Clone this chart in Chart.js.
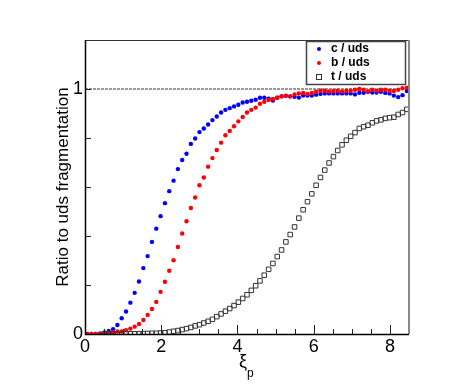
<!DOCTYPE html>
<html>
<head>
<meta charset="utf-8">
<script src="https://cdn.jsdelivr.net/npm/chart.js@4.4.1/dist/chart.umd.min.js"></script>
<style>
  html, body { margin: 0; padding: 0; background: #fff; }
  #wrap { width: 458px; height: 392px; }
</style>
</head>
<body>
<div id="wrap"><canvas id="myChart" width="458" height="392"></canvas></div>
<script>
// bin centres in xi_p (75 bins from 0 to 8.5)
var xi = [0.057, 0.170, 0.283, 0.397, 0.510, 0.623, 0.737, 0.850, 0.963, 1.077,
  1.190, 1.303, 1.417, 1.530, 1.643, 1.757, 1.870, 1.983, 2.097, 2.210,
  2.323, 2.437, 2.550, 2.663, 2.777, 2.890, 3.003, 3.117, 3.230, 3.343,
  3.457, 3.570, 3.683, 3.797, 3.910, 4.023, 4.137, 4.250, 4.363, 4.477,
  4.590, 4.703, 4.817, 4.930, 5.043, 5.157, 5.270, 5.383, 5.497, 5.610,
  5.723, 5.837, 5.950, 6.063, 6.177, 6.290, 6.403, 6.517, 6.630, 6.743,
  6.857, 6.970, 7.083, 7.197, 7.310, 7.423, 7.537, 7.650, 7.763, 7.877,
  7.990, 8.103, 8.217, 8.330, 8.443];

var cRatio = [0, 0, 0, 0.002, 0.006, 0.012, 0.02, 0.037, 0.064, 0.092,
  0.128, 0.168, 0.214, 0.269, 0.318, 0.376, 0.43, 0.481, 0.534, 0.583,
  0.626, 0.673, 0.71, 0.736, 0.776, 0.798, 0.824, 0.839, 0.855, 0.873,
  0.888, 0.904, 0.915, 0.922, 0.929, 0.936, 0.945, 0.948, 0.952, 0.956,
  0.964, 0.964, 0.96, 0.953, 0.964, 0.97, 0.972, 0.97, 0.968, 0.965,
  0.973, 0.973, 0.973, 0.977, 0.98, 0.982, 0.982, 0.982, 0.982, 0.982,
  0.982, 0.982, 0.978, 0.985, 0.985, 0.989, 0.986, 0.986, 0.989, 0.984,
  0.982, 0.973, 0.967, 0.975, 0.992];

var bRatio = [0, 0, 0, 0, 0.003, 0.005, 0.007, 0.01, 0.01, 0.016,
  0.022, 0.03, 0.041, 0.057, 0.078, 0.102, 0.131, 0.172, 0.213, 0.258,
  0.301, 0.355, 0.41, 0.46, 0.514, 0.557, 0.607, 0.639, 0.683, 0.718,
  0.751, 0.781, 0.811, 0.829, 0.848, 0.868, 0.886, 0.904, 0.915, 0.924,
  0.94, 0.948, 0.955, 0.959, 0.964, 0.97, 0.973, 0.97, 0.978, 0.982,
  0.984, 0.98, 0.984, 0.989, 0.993, 0.993, 0.99, 0.992, 0.993, 0.99,
  0.993, 0.993, 0.997, 1.0, 0.997, 0.99, 0.997, 0.993, 0.997, 0.997,
  0.993, 0.992, 0.997, 1.003, 1.005];

var tRatio = [null, null, null, null, 0, 0, 0, 0, 0, 0,
  0.001, 0.001, 0.001, 0.002, 0.002, 0.003, 0.003, 0.004, 0.005, 0.008,
  0.011, 0.014, 0.018, 0.022, 0.027, 0.033, 0.038, 0.045, 0.052, 0.06,
  0.071, 0.082, 0.093, 0.104, 0.116, 0.13, 0.145, 0.16, 0.178, 0.197,
  0.217, 0.24, 0.264, 0.288, 0.316, 0.343, 0.376, 0.406, 0.437, 0.473,
  0.507, 0.54, 0.572, 0.607, 0.639, 0.669, 0.698, 0.724, 0.749, 0.772,
  0.791, 0.807, 0.822, 0.839, 0.846, 0.852, 0.862, 0.87, 0.874, 0.88,
  0.883, 0.885, 0.896, 0.904, 0.917];

var seriesNames = ['c / uds', 'b / uds', 't / uds'];
var xTickLabels = [0, 2, 4, 6, 8];
var yTickLabels = [0, 1];

function pts(vals) {
  return vals.map(function (v, i) { return { x: xi[i], y: v }; });
}

var FONT = '"Liberation Sans", Arial, Helvetica, sans-serif';

// ROOT-style frame, inward ticks, x title and legend box
var rootStyle = {
  id: 'rootStyle',
  afterDraw: function (chart) {
    var ctx = chart.ctx, a = chart.chartArea;
    var xs = chart.scales.x, ys = chart.scales.y;
    ctx.save();
    // frame
    ctx.lineWidth = 1;
    ctx.strokeStyle = '#333';
    ctx.beginPath();
    ctx.moveTo(a.left, a.top + 0.5); ctx.lineTo(a.right, a.top + 0.5);
    ctx.stroke();
    ctx.strokeStyle = '#888';
    ctx.lineWidth = 2;
    ctx.beginPath();
    ctx.moveTo(a.right, a.top); ctx.lineTo(a.right, a.bottom);
    ctx.stroke();
    ctx.strokeStyle = '#000';
    ctx.lineWidth = 1.5;
    ctx.beginPath();
    ctx.moveTo(a.left + 0.5, a.top); ctx.lineTo(a.left + 0.5, a.bottom + 0.5);
    ctx.lineTo(a.right, a.bottom + 0.5);
    ctx.stroke();

    // x ticks every 0.5, longer at labels
    ctx.lineWidth = 1;
    ctx.strokeStyle = '#222';
    for (var k = 1; k <= 16; k++) {
      var v = k * 0.5;
      var px = Math.round(xs.getPixelForValue(v)) + 0.5;
      var len = (xTickLabels.indexOf(v) >= 0) ? 9 : 5;
      ctx.beginPath();
      ctx.moveTo(px, a.bottom); ctx.lineTo(px, a.bottom - len);
      ctx.stroke();
    }
    // y ticks every 0.2
    for (var j = 1; j <= 5; j++) {
      var py = Math.round(ys.getPixelForValue(j * 0.2)) + 0.5;
      ctx.beginPath();
      ctx.moveTo(a.left, py); ctx.lineTo(a.left + 6, py);
      ctx.stroke();
    }

    // x title: xi with subscript p
    ctx.fillStyle = '#000';
    ctx.textAlign = 'left';
    ctx.textBaseline = 'alphabetic';
    ctx.font = '18px ' + FONT;
    ctx.fillText('\u03BE', 239, 367);
    ctx.font = '12px ' + FONT;
    ctx.fillText('p', 247, 377);

    // legend
    var lx = 306, ly = 41, lw = 99, lh = 43;
    ctx.fillStyle = '#fff';
    ctx.fillRect(lx, ly, lw, lh);
    ctx.strokeStyle = '#444';
    ctx.lineWidth = 1.5;
    ctx.strokeRect(lx + 0.5, ly + 0.5, lw, lh);
    var rows = [49, 63, 77];
    chart.data.datasets.slice(0, 3).forEach(function (ds, i) {
      var y = rows[i];
      if (ds.pointStyle === 'rect') {
        ctx.strokeStyle = ds.borderColor;
        ctx.lineWidth = 1;
        ctx.strokeRect(316.5, y - 2.5, 5, 5);
      } else {
        ctx.fillStyle = ds.backgroundColor;
        ctx.beginPath();
        ctx.arc(319, y, 2, 0, Math.PI * 2);
        ctx.fill();
      }
      ctx.fillStyle = '#000';
      ctx.font = 'bold 12px ' + FONT;
      ctx.textBaseline = 'middle';
      ctx.fillText(ds.label, 331, y);
    });
    ctx.restore();
  }
};

var ctx = document.getElementById('myChart').getContext('2d');
var chart = new Chart(ctx, {
    type: 'scatter',
    data: {
        datasets: [{
            label: seriesNames[0],
            data: pts(cRatio),
            backgroundColor: '#0000ff',
            borderColor: '#0000ff',
            pointRadius: 2.2,
            borderWidth: 0,
            order: 3
        }, {
            label: seriesNames[1],
            data: pts(bRatio),
            backgroundColor: '#ff0000',
            borderColor: '#ff0000',
            pointRadius: 2.2,
            borderWidth: 0,
            order: 2
        }, {
            label: seriesNames[2],
            data: pts(tRatio),
            pointStyle: 'rect',
            backgroundColor: 'rgba(0,0,0,0)',
            borderColor: '#333',
            pointRadius: 3.2,
            borderWidth: 1,
            order: 1
        }, {
            // reference line at ratio = 1
            label: 'ref',
            type: 'line',
            data: [{ x: 0, y: 1 }, { x: 8.5, y: 1 }],
            borderColor: '#333',
            borderWidth: 1,
            borderDash: [3, 1],
            pointRadius: 0,
            order: 4
        }]
    },
    options: {
        responsive: false,
        animation: false,
        events: [],
        layout: { padding: { top: 40, right: 49, left: 0, bottom: 0 } },
        plugins: { legend: { display: false }, tooltip: { enabled: false } },
        scales: {
            x: {
                type: 'linear', min: 0, max: 8.5,
                grid: { display: false, drawTicks: false },
                border: { display: false },
                afterBuildTicks: function (s) {
                    s.ticks = xTickLabels.map(function (v) { return { value: v }; });
                },
                ticks: {
                    padding: 2, color: '#000', autoSkip: false,
                    font: { family: FONT, size: 18 },
                    maxRotation: 0,
                    callback: function (v) { return String(v); }
                },
                afterFit: function (s) { s.height = 58; }
            },
            y: {
                min: 0, max: 1.2,
                grid: { display: false, drawTicks: false },
                border: { display: false },
                afterBuildTicks: function (s) {
                    s.ticks = yTickLabels.map(function (v) { return { value: v }; });
                },
                ticks: {
                    padding: 2, color: '#000', autoSkip: false,
                    font: { family: FONT, size: 18 },
                    callback: function (v) { return String(v); }
                },
                title: {
                    display: true, text: 'Ratio to uds fragmentation', color: '#000',
                    font: { family: FONT, size: 17 },
                    padding: { top: 53, bottom: 0 }
                },
                afterFit: function (s) { s.width = 85; }
            }
        }
    },
    plugins: [rootStyle]
});
</script>
</body>
</html>
